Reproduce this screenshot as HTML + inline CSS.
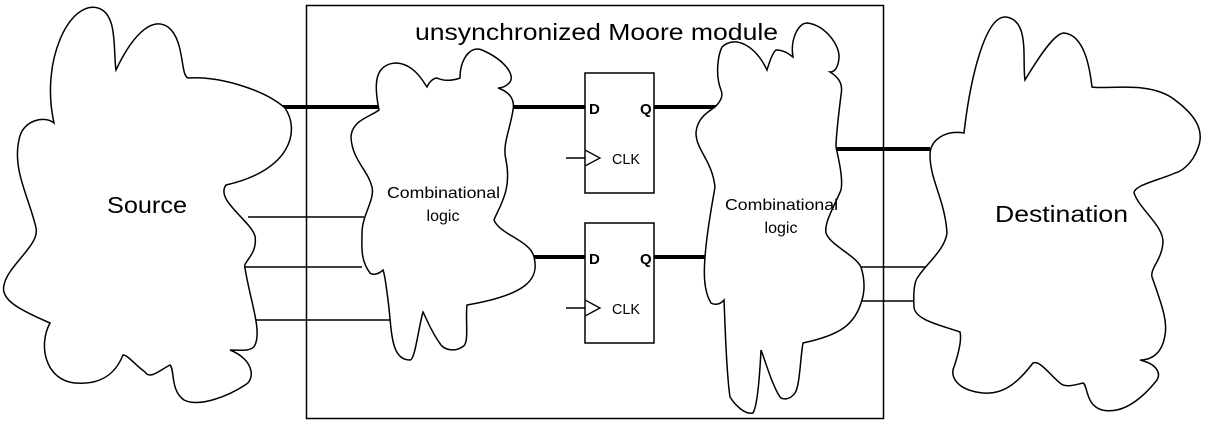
<!DOCTYPE html>
<html><head><style>
html,body{margin:0;padding:0;background:#fff;}
svg{display:block;}
text{font-family:"Liberation Sans","DejaVu Sans",sans-serif;fill:#000;}
</style></head><body>
<svg width="1207" height="439" viewBox="0 0 1207 439" xmlns="http://www.w3.org/2000/svg">
<g fill="none" stroke="#000">
<rect x="306.5" y="5.5" width="577" height="413" stroke-width="1.5"/>
<g stroke-width="4">
<line x1="280" y1="107" x2="380" y2="107"/>
<line x1="511" y1="107" x2="585" y2="107"/>
<line x1="654" y1="107" x2="717" y2="107"/>
<line x1="534" y1="257" x2="585" y2="257"/>
<line x1="654" y1="257" x2="706" y2="257"/>
<line x1="837" y1="149" x2="930" y2="149"/>
</g>
<g stroke-width="1.5">
<line x1="248" y1="217" x2="364" y2="217"/>
<line x1="243" y1="267" x2="362" y2="267"/>
<line x1="256" y1="320" x2="390" y2="320"/>
<line x1="860" y1="267" x2="927" y2="267"/>
<line x1="862" y1="301" x2="913" y2="301"/>
<line x1="566" y1="158" x2="585" y2="158"/>
<line x1="566" y1="308" x2="585" y2="308"/>
</g>
</g>
<g fill="#fff" stroke="#000" stroke-width="1.5">
<path d="M54,123 C40,60 70,0 98,8 C118,14 113,50 116,70 C130,40 150,15 168,27 C185,40 180,75 188,78 C220,76 265,90 285,108 C300,130 292,170 226,185 C215,200 250,220 255,236 C258,255 242,262 245,268 C250,300 262,330 255,345 C252,352 240,350 230,350 C255,360 255,380 245,385 C230,395 200,408 184,400 C170,390 175,370 170,365 C160,370 150,380 145,372 C135,365 128,355 123,355 C115,375 100,385 75,383 C45,380 38,345 50,323 C20,310 0,300 4,285 C8,265 40,245 36,228 C30,200 12,170 19,140 C22,120 45,115 54,123 Z"/>
<path d="M379,110 C375,90 372,65 395,63 C415,63 425,85 427,87 C430,80 435,78 437,78 C445,82 455,80 460,78 C460,60 470,45 482,50 C505,60 515,75 510,82 C505,88 500,88 498,88 C510,92 515,100 513,110 C510,130 502,145 506,160 C512,190 500,205 494,220 C500,235 530,240 534,257 C540,280 525,295 467,305 C465,320 470,345 462,347 C455,352 445,350 441,345 C430,330 425,315 423,312 C418,330 415,360 410,360 C390,360 392,330 388,300 C386,285 385,275 383,270 C378,275 372,275 370,273 C360,260 362,245 362,233 C362,215 375,200 372,187 C368,170 352,160 351,137 C352,120 370,117 379,110 Z"/>
<path d="M715,107 C722,100 723,95 721,90 C715,75 718,55 722,47 C735,35 755,45 767,70 C770,60 773,52 776,50 C785,50 790,55 793,57 C790,40 798,23 807,23 C825,25 840,45 839,58 C838,70 833,72 830,72 C840,78 843,85 841,95 C838,120 836,135 836,147 C840,165 843,180 841,190 C835,205 824,222 826,233 C830,245 855,255 861,267 C865,280 865,290 862,300 C855,325 840,335 803,343 C800,360 800,385 795,393 C790,400 783,400 780,397 C772,385 765,360 761,350 C760,370 758,405 753,413 C745,415 735,405 730,397 C726,370 725,320 724,300 C720,305 714,305 711,303 C703,290 704,270 705,257 C707,230 712,205 715,187 C712,160 696,150 696,133 C697,118 708,112 715,107 Z"/>
<path d="M964,133 C970,80 985,15 1006,17 C1030,20 1022,60 1025,80 C1040,55 1055,33 1064,33 C1085,35 1090,70 1092,87 C1105,90 1150,80 1175,100 C1195,115 1205,130 1198,148 C1192,165 1180,172 1175,173 C1160,180 1134,185 1134,193 C1140,210 1163,225 1163,242 C1162,260 1150,268 1152,277 C1160,300 1168,320 1165,335 C1162,355 1150,360 1140,360 C1160,365 1160,375 1157,380 C1145,395 1125,415 1102,410 C1085,405 1088,385 1083,383 C1075,385 1065,388 1060,383 C1050,375 1040,360 1033,363 C1020,380 1005,395 983,393 C955,390 950,375 954,367 C958,355 962,340 960,332 C940,325 915,320 914,307 C913,290 915,280 918,277 C925,265 945,250 947,233 C945,200 930,180 930,155 C930,140 945,130 964,133 Z"/>
<rect x="585" y="73" width="69" height="120"/>
<rect x="585" y="223" width="69" height="120"/>
</g>
<g fill="none" stroke="#000" stroke-width="1.3">
<polyline points="585,150 600,158 585,166"/>
<polyline points="585,300 600,308 585,316"/>
</g>
<text x="415" y="40" font-size="23" textLength="363" lengthAdjust="spacingAndGlyphs">unsynchronized Moore module</text>
<text x="107" y="213" font-size="23" textLength="80" lengthAdjust="spacingAndGlyphs">Source</text>
<text x="995" y="222" font-size="23" textLength="133" lengthAdjust="spacingAndGlyphs">Destination</text>
<text x="387" y="198" font-size="16" textLength="113" lengthAdjust="spacingAndGlyphs">Combinational</text>
<text x="443" y="221" font-size="16" text-anchor="middle">logic</text>
<text x="725" y="210" font-size="16" textLength="113" lengthAdjust="spacingAndGlyphs">Combinational</text>
<text x="781" y="233" font-size="16" text-anchor="middle">logic</text>
<g font-size="15" font-weight="bold">
<text x="589" y="114">D</text><text x="640" y="114">Q</text>
<text x="589" y="264">D</text><text x="640" y="264">Q</text>
</g>
<text x="612" y="164" font-size="15" textLength="28" lengthAdjust="spacingAndGlyphs">CLK</text>
<text x="612" y="314" font-size="15" textLength="28" lengthAdjust="spacingAndGlyphs">CLK</text>
</svg>
</body></html>
